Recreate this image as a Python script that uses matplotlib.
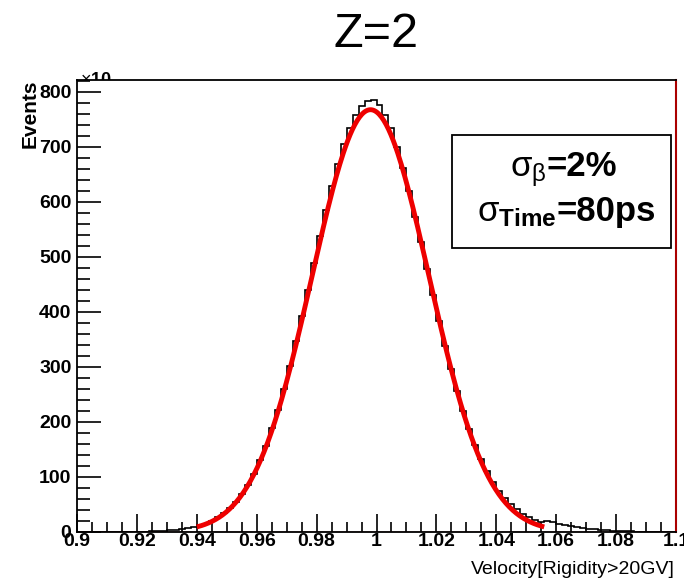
import numpy as np
import matplotlib
matplotlib.use("Agg")
import matplotlib.pyplot as plt
from matplotlib.ticker import MultipleLocator
from matplotlib.transforms import Bbox

plt.rcParams['font.family'] = ['Liberation Sans', 'DejaVu Sans']
plt.rcParams['mathtext.fontset'] = 'custom'
plt.rcParams['mathtext.rm'] = 'Liberation Sans'
plt.rcParams['mathtext.it'] = 'Liberation Sans'
plt.rcParams['mathtext.bf'] = 'Liberation Sans:bold'

# histogram: 100 bins, 0.9 .. 1.1
bin_edges = np.linspace(0.9, 1.1, 101)
counts = [
    0, 0, 0, 0, 0, 0, 0, 0, 0, 0,
    0, 0, 1, 1, 2, 3, 4, 5, 7, 9,
    12, 15, 20, 27, 34, 43, 55, 69, 86, 106,
    130, 157, 188, 222, 260, 302, 346, 392, 440, 489,
    537, 584, 628, 668, 705, 734, 757, 773, 783, 784,
    775, 758, 733, 700, 662, 619, 573, 526, 478, 430,
    383, 338, 296, 256, 220, 187, 158, 132, 110, 91,
    75, 61, 50, 41, 33, 27, 22, 18, 20, 18,
    15, 13, 11, 9, 7, 6, 5, 4, 3, 2,
    2, 1, 1, 0, 0, 0, 0, 0, 0, 0,
]

# gaussian fit drawn in red
fit_const = 767
fit_mean = 0.998
fit_sigma = 0.0195
fit_range = (0.94, 1.056)

fig = plt.figure(figsize=(6.84, 5.8), dpi=100)
ax = fig.add_axes([0.1126, 0.0828, 0.8757, 0.7793])

ax.stairs(counts, bin_edges, color='black', lw=1.2)
fx = np.linspace(fit_range[0], fit_range[1], 300)
fy = fit_const * np.exp(-0.5 * ((fx - fit_mean) / fit_sigma) ** 2)
ax.plot(fx, fy, color='#ee0000', lw=3.5, solid_capstyle='butt')
ax.axhline(0, color='#cc0000', lw=1.0)

ax.set_xlim(0.9, 1.1)
ax.set_ylim(0, 821)

ax.xaxis.set_major_locator(MultipleLocator(0.02))
ax.xaxis.set_minor_locator(MultipleLocator(0.005))
ax.yaxis.set_major_locator(MultipleLocator(100))
ax.yaxis.set_minor_locator(MultipleLocator(20))
ax.xaxis.set_major_formatter(plt.FuncFormatter(lambda v, p: ('%.2f' % v).rstrip('0').rstrip('.')))
ax.tick_params(axis='x', which='major', direction='in', length=13, width=1.2,
               labelsize=14, pad=1)
ax.tick_params(axis='x', which='minor', direction='in', length=7, width=1.2)
ax.tick_params(axis='y', which='major', direction='in', length=17, width=1.2,
               labelsize=14, pad=4)
ax.tick_params(axis='y', which='minor', direction='in', length=9, width=1.2)
for lab in ax.get_xticklabels() + ax.get_yticklabels():
    lab.set_fontweight('bold')

for side in ['left', 'bottom', 'top']:
    ax.spines[side].set_linewidth(1.3)
    ax.spines[side].set_color('black')
ax.spines['right'].set_color('#aa0000')
ax.spines['right'].set_linewidth(1.5)

ax.set_ylabel('Events', fontsize=15, fontweight='bold')
ax.yaxis.set_label_coords(-0.078, 1.0)
ax.yaxis.label.set_ha('right')
ax.yaxis.label.set_va('center')

fig.text(0.987, 0.004, 'Velocity[Rigidity>20GV]', ha='right', va='bottom', fontsize=14)
fig.text(0.55, 0.94, 'Z=2', ha='center', va='center', fontsize=35)

t = fig.text(0.117, 0.862, r'$\times$10', ha='left', va='center', fontsize=13, fontweight='bold')
t.set_clip_box(Bbox.from_extents(0, 500, 684, 514))

# stats-like box
ax.add_patch(plt.Rectangle((0.626, 0.628), 0.366, 0.25, transform=ax.transAxes,
                           facecolor='white', edgecolor='black', lw=1.3, zorder=5))
ax.text(0.784, 0.788, r'$\sigma_{\beta}$', transform=ax.transAxes,
        ha='right', va='baseline', fontsize=25, zorder=6)
ax.text(0.784, 0.788, '=2%', transform=ax.transAxes, fontweight='bold',
        ha='left', va='baseline', fontsize=25, zorder=6)
ax.text(0.801, 0.688, r'$\sigma_{\mathbf{Time}}$', transform=ax.transAxes,
        ha='right', va='baseline', fontsize=25, zorder=6)
ax.text(0.801, 0.688, '=80ps', transform=ax.transAxes, fontweight='bold',
        ha='left', va='baseline', fontsize=25, zorder=6)

fig.savefig('out.png', dpi=100)
